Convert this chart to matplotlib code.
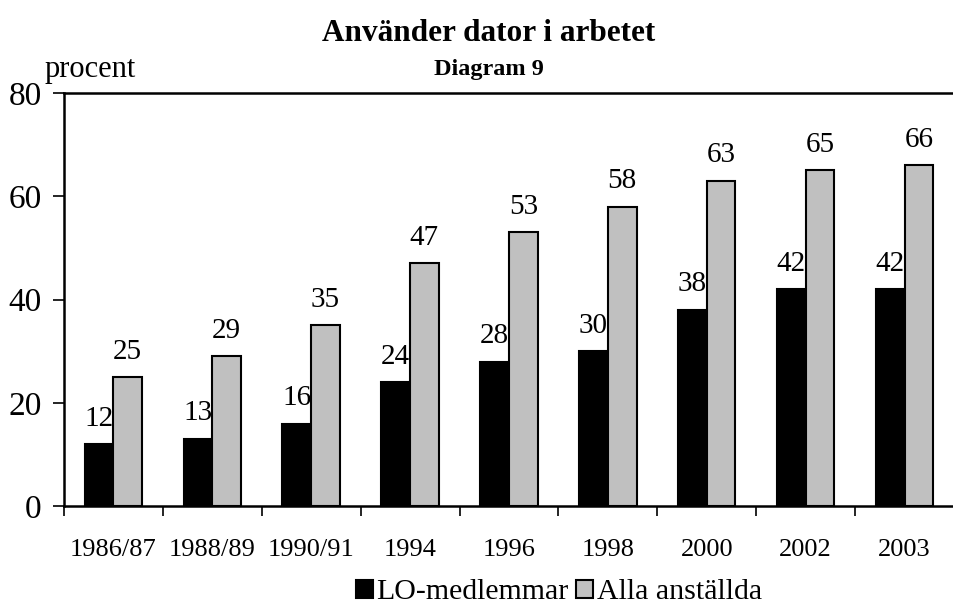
import matplotlib.pyplot as plt
import numpy as np

plt.rcParams['font.family'] = ['Liberation Serif', 'DejaVu Serif']

years = ['1986/87', '1988/89', '1990/91', '1994', '1996', '1998', '2000', '2002', '2003']
lo_members = [12, 13, 16, 24, 28, 30, 38, 42, 42]
all_employed = [25, 29, 35, 47, 53, 58, 63, 65, 66]

fig = plt.figure(figsize=(9.54, 6.12), dpi=100)
ax = fig.add_axes([0.067, 0.173, 0.933, 0.675])

x = np.arange(len(years))
w = 0.29
b1 = ax.bar(x - w / 2, lo_members, w, color='black', edgecolor='black', linewidth=1.5,
            label='LO-medlemmar')
b2 = ax.bar(x + w / 2, all_employed, w, color='#c0c0c0', edgecolor='black', linewidth=1.5,
            label='Alla anställda')

for bars, vals in [(b1, lo_members), (b2, all_employed)]:
    for bar, v in zip(bars, vals):
        ax.annotate(str(v), (bar.get_x() + bar.get_width() / 2, v),
                    xytext=(0, 9), textcoords='offset points',
                    ha='center', va='bottom', fontsize=21)

ax.set_xlim(-0.5, len(years) - 0.5)
ax.set_ylim(0, 80)
ax.set_yticks([0, 20, 40, 60, 80])
ax.tick_params(axis='y', labelsize=24, length=8, width=1.2, pad=8)

ax.set_xticks(x)
ax.set_xticklabels(years)
ax.set_xticks(np.arange(len(years) + 1) - 0.5, minor=True)
ax.tick_params(axis='x', which='major', length=0, labelsize=19, pad=24)
ax.tick_params(axis='x', which='minor', length=7, width=1.2)

for s in ['left', 'bottom', 'top']:
    ax.spines[s].set_linewidth(1.8)
ax.spines['right'].set_visible(False)

fig.text(0.512, 0.946, 'Använder dator i arbetet', ha='center', va='center',
         fontsize=22.5, fontweight='bold')
fig.text(0.512, 0.886, 'Diagram 9', ha='center', va='center',
         fontsize=17.5, fontweight='bold')
fig.text(0.047, 0.886, 'procent', ha='left', va='center', fontsize=22)

fig.legend(loc='center', bbox_to_anchor=(0.586, 0.032), ncol=2, frameon=False,
           fontsize=21.5, handlelength=0.57, handleheight=0.57, handletextpad=0.12,
           columnspacing=0.25, borderaxespad=0)

fig.savefig('out.png', dpi=100)
